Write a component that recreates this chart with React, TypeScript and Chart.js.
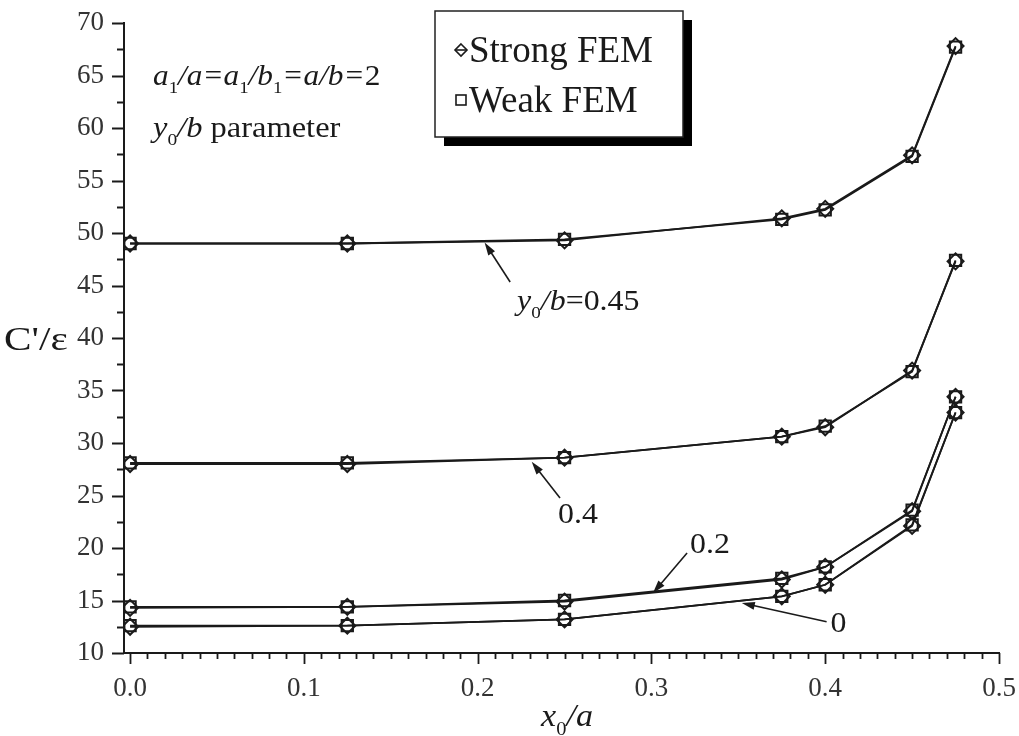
import React, { useEffect, useRef } from 'react';
import { Chart, registerables } from 'chart.js';
Chart.register(...registerables);

// ---- data ----
const xValues = [0, 0.125, 0.25, 0.375, 0.4, 0.45, 0.475];
const strong045 = [49.0, 49.0, 49.3, 51.4, 52.3, 57.4, 67.8];
const weak045 = [49.0, 49.0, 49.4, 51.3, 52.2, 57.3, 67.7];
const strong040 = [28.0, 28.0, 28.6, 30.6, 31.5, 36.9, 47.3];
const weak040 = [28.1, 28.1, 28.6, 30.6, 31.6, 36.8, 47.4];
const strong020 = [14.3, 14.4, 14.9, 17.0, 18.2, 23.5, 34.4];
const weak020 = [14.4, 14.4, 15.0, 17.1, 18.2, 23.6, 34.4];
const strong000 = [12.5, 12.6, 13.2, 15.4, 16.5, 22.1, 32.9];
const weak000 = [12.6, 12.6, 13.2, 15.4, 16.5, 22.2, 32.9];

const xTickValues = [0, 0.1, 0.2, 0.3, 0.4, 0.5];
const yTickValues = [10, 15, 20, 25, 30, 35, 40, 45, 50, 55, 60, 65, 70];
const seriesNames = ['Strong FEM', 'Weak FEM'];

// annotation arrows (data units)
const arrowLabels = ['y0/b=0.45', '0.4', '0.2', '0'];
const arrowTips = [[0.204, 49.1], [0.2311, 28.22], [0.3009, 15.71], [0.352, 14.76]];
const arrowTails = [[0.2187, 45.33], [0.2474, 24.76], [0.3205, 19.52], [0.4008, 12.98]];
const arrowTextPos = [[0.2227, 43.6], [0.2463, 23.35], [0.3222, 20.5], [0.403, 12.95]];

const FONT = '"Liberation Serif", "DejaVu Serif", serif';
const INK = '#1a1a1a';

type Part = { t: string; it?: boolean; sub?: boolean };

function drawRich(ctx: CanvasRenderingContext2D, x: number, y: number, parts: Part[], size: number, align: 'left' | 'center' = 'left', sx = 1) {
  ctx.save();
  ctx.textBaseline = 'alphabetic';
  ctx.textAlign = 'left';
  const measure = (p: Part) => {
    const fs = p.sub ? size * 0.6 : size;
    ctx.font = `${p.it ? 'italic ' : ''}${fs}px ${FONT}`;
    return ctx.measureText(p.t).width;
  };
  let total = 0;
  for (const p of parts) total += measure(p);
  const start = align === 'center' ? x - (total * sx) / 2 : x;
  ctx.translate(start, y);
  ctx.scale(sx, 1);
  let cx = 0;
  for (const p of parts) {
    const w = measure(p);
    ctx.fillStyle = INK;
    ctx.fillText(p.t, cx, p.sub ? size * 0.28 : 0);
    cx += w;
  }
  ctx.restore();
}

function labelParts(label: string): Part[] {
  if (label.startsWith('y0/b=')) {
    return [
      { t: 'y', it: true },
      { t: '0', sub: true },
      { t: '/b', it: true },
      { t: label.slice(4) },
    ];
  }
  return [{ t: label }];
}

const decorPlugin = {
  id: 'decor',
  afterDatasetsDraw(chart: any) {
    const ctx: CanvasRenderingContext2D = chart.ctx;
    const xs = chart.scales.x;
    const ys = chart.scales.y;
    for (let i = 0; i < arrowLabels.length; i++) {
      const tx = xs.getPixelForValue(arrowTips[i][0]);
      const ty = ys.getPixelForValue(arrowTips[i][1]);
      const sx = xs.getPixelForValue(arrowTails[i][0]);
      const sy = ys.getPixelForValue(arrowTails[i][1]);
      const ang = Math.atan2(ty - sy, tx - sx);
      ctx.save();
      ctx.strokeStyle = INK;
      ctx.fillStyle = INK;
      ctx.lineWidth = 1.6;
      ctx.beginPath();
      ctx.moveTo(sx, sy);
      ctx.lineTo(tx - Math.cos(ang) * 6, ty - Math.sin(ang) * 6);
      ctx.stroke();
      const L = 13, W = 4;
      ctx.beginPath();
      ctx.moveTo(tx, ty);
      ctx.lineTo(tx - L * Math.cos(ang) + W * Math.sin(ang), ty - L * Math.sin(ang) - W * Math.cos(ang));
      ctx.lineTo(tx - L * Math.cos(ang) - W * Math.sin(ang), ty - L * Math.sin(ang) + W * Math.cos(ang));
      ctx.closePath();
      ctx.fill();
      ctx.restore();
      const lx = xs.getPixelForValue(arrowTextPos[i][0]);
      const ly = ys.getPixelForValue(arrowTextPos[i][1]);
      drawRich(ctx, lx, ly + 10, labelParts(arrowLabels[i]), 29, 'left', 1.1);
    }
    drawRich(ctx, 153, 85, [
      { t: 'a', it: true }, { t: '1', sub: true }, { t: '/a=a', it: true }, { t: '1', sub: true },
      { t: '/b', it: true }, { t: '1', sub: true }, { t: '=a/b=', it: true }, { t: '2' },
    ], 29, 'left', 1.08);
    drawRich(ctx, 153, 137, [{ t: 'y', it: true }, { t: '0', sub: true }, { t: '/b', it: true }, { t: ' parameter' }], 29, 'left', 1.12);

    // legend
    const bx = 435, by = 11, bw = 248, bh = 126;
    ctx.save();
    ctx.fillStyle = '#000';
    ctx.fillRect(bx + 9, by + 9, bw, bh);
    ctx.fillStyle = '#fff';
    ctx.fillRect(bx, by, bw, bh);
    ctx.strokeStyle = '#222';
    ctx.lineWidth = 1.5;
    ctx.strokeRect(bx, by, bw, bh);
    const names = [chart.data.datasets[0].label, chart.data.datasets[1].label];
    const rows = [50, 100];
    ctx.lineWidth = 1.6;
    ctx.strokeStyle = INK;
    ctx.beginPath();
    ctx.moveTo(461, rows[0] - 6);
    ctx.lineTo(467, rows[0]);
    ctx.lineTo(461, rows[0] + 6);
    ctx.lineTo(455, rows[0]);
    ctx.closePath();
    ctx.stroke();
    ctx.beginPath();
    ctx.moveTo(455, rows[0]);
    ctx.lineTo(467, rows[0]);
    ctx.stroke();
    ctx.strokeRect(456, rows[1] - 5, 10, 10);
    ctx.fillStyle = INK;
    ctx.font = `37px ${FONT}`;
    ctx.textBaseline = 'alphabetic';
    ctx.fillText(names[0], 469, 62);
    ctx.fillText(names[1], 469, 112);
    ctx.restore();
  },
  afterDraw(chart: any) {
    const ctx: CanvasRenderingContext2D = chart.ctx;
    const xs = chart.scales.x;
    const ys = chart.scales.y;
    const { left, bottom } = chart.chartArea;
    ctx.save();
    ctx.strokeStyle = INK;
    ctx.lineWidth = 1.8;
    ctx.beginPath();
    for (let k = 0; k <= 50; k++) {
      const px = Math.round(xs.getPixelForValue(k / 100)) + 0.5;
      const len = k % 10 === 0 ? 11 : 6;
      ctx.moveTo(px, bottom);
      ctx.lineTo(px, bottom + len);
    }
    for (let k = 0; k <= 24; k++) {
      const py = Math.round(ys.getPixelForValue(10 + k * 2.5)) + 0.5;
      const len = k % 2 === 0 ? 12 : 7;
      ctx.moveTo(left, py);
      ctx.lineTo(left - len, py);
    }
    ctx.stroke();
    ctx.restore();
    drawRich(ctx, 567, 726, [{ t: 'x', it: true }, { t: '0', sub: true }, { t: '/a', it: true }], 31, 'center', 1.1);
    drawRich(ctx, 4, 350, [{ t: "C'/\u03b5" }], 33, 'left', 1.25);
  },
};

function makeSet(label: string, values: number[], style: string) {
  return {
    label,
    data: xValues.map((x, i) => ({ x, y: values[i] })),
    borderColor: INK,
    borderWidth: 1.8,
    pointStyle: style,
    pointRadius: 8,
    pointBorderWidth: 2,
    pointBorderColor: INK,
    pointBackgroundColor: 'rgba(255,255,255,0)',
    showLine: true,
    tension: 0,
  };
}

export default function App() {
  const ref = useRef<HTMLCanvasElement>(null);
  useEffect(() => {
    if (!ref.current) return;
    const chart = new Chart(ref.current, {
      type: 'scatter',
      data: {
        datasets: [
          makeSet(seriesNames[0], strong045, 'rectRot'),
          makeSet(seriesNames[1], weak045, 'rect'),
          makeSet(seriesNames[0], strong040, 'rectRot'),
          makeSet(seriesNames[1], weak040, 'rect'),
          makeSet(seriesNames[0], strong020, 'rectRot'),
          makeSet(seriesNames[1], weak020, 'rect'),
          makeSet(seriesNames[0], strong000, 'rectRot'),
          makeSet(seriesNames[1], weak000, 'rect'),
        ] as any,
      },
      options: {
        animation: false,
        responsive: true,
        maintainAspectRatio: false,
        layout: { padding: { top: 23, right: 20, left: 0, bottom: 0 } },
        plugins: { legend: { display: false }, tooltip: { enabled: false } },
        scales: {
          x: {
            type: 'linear',
            min: -0.0035,
            max: 0.5,
            grid: { display: false, drawTicks: false },
            border: { display: true, color: INK, width: 2 },
            afterBuildTicks: (s: any) => { s.ticks = xTickValues.map((v) => ({ value: v })); },
            afterFit: (s: any) => { s.height = 83; s.paddingLeft = 0; s.paddingRight = 0; },
            ticks: {
              color: '#333',
              font: { family: FONT, size: 27 },
              padding: 20,
              maxRotation: 0,
              autoSkip: false,
              callback: (v: any) => Number(v).toFixed(1),
            },
          },
          y: {
            type: 'linear',
            min: 10,
            max: 70,
            grid: { display: false, drawTicks: false },
            border: { display: true, color: INK, width: 2 },
            afterBuildTicks: (s: any) => { s.ticks = yTickValues.map((v) => ({ value: v })); },
            afterFit: (s: any) => { s.width = 124; s.paddingTop = 0; s.paddingBottom = 0; },
            ticks: {
              color: '#333',
              font: { family: FONT, size: 27 },
              padding: 20,
              autoSkip: false,
              callback: (v: any) => String(v),
            },
          },
        },
      },
      plugins: [decorPlugin],
    });
    return () => chart.destroy();
  }, []);
  return (
    <div style={{ position: 'absolute', left: 0, top: 0, width: 1019, height: 736, background: '#fff' }}>
      <canvas ref={ref} />
    </div>
  );
}
